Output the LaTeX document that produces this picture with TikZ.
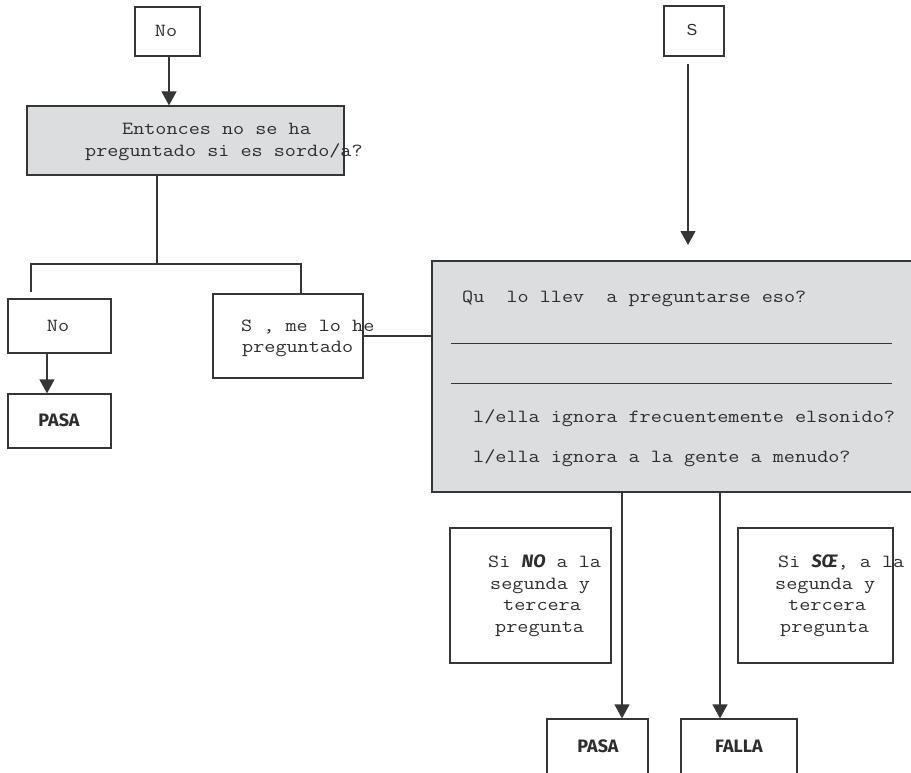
\documentclass[tikz,border=0pt]{standalone}
\usepackage{fontspec}
\newfontfamily\monof{Latin Modern Mono}[FakeStretch=1.165]
\newfontfamily\humf{Fira Sans}
\newfontfamily\helvf{Liberation Sans}
\usetikzlibrary{arrows.meta,fit}
\definecolor{linec}{HTML}{363636}
\definecolor{txtc}{HTML}{2E2E2E}
\definecolor{panel}{HTML}{DCDDDF}
\tikzset{
  box/.style={draw=linec, line width=1.2pt, rectangle, inner sep=0pt},
  graybox/.style={box, fill=panel},
  mono/.style={font=\monof\fontsize{18.5}{22}\selectfont, text=txtc, inner sep=0pt, anchor=base west},
  verdict/.style={font=\humf\bfseries\fontsize{18}{20}\selectfont, text=txtc, inner sep=0pt, anchor=base},
  conn/.style={draw=linec, line width=1.2pt},
  arr/.style={conn, -{Triangle[width=15pt,length=14pt]}},
  rule/.style={draw=linec, line width=1pt}
}
\begin{document}
\begin{tikzpicture}[x=1pt,y=-1pt]
\useasboundingbox (0,0) rectangle (911,773);

% boxes
\node[box, fit={(135,7) (200,56)}] (no1) {};
\node[graybox, fit={(27,106) (344,175)}] (q1) {};
\node[box, fit={(8,299) (111,353)}] (no2) {};
\node[box, fit={(8,394) (111,448)}] (pasa1) {};
\node[box, fit={(213,294) (363,378)}] (si) {};
\node[box, fit={(664,6) (724,56)}] (sbox) {};
\node[graybox, fit={(432,261) (940,492)}] (big) {};
\node[box, fit={(450,528) (611,663)}] (sino) {};
\node[box, fit={(738,528) (893,663)}] (sisi) {};
\node[box, fit={(547,719) (648,800)}] (pasa2) {};
\node[box, fit={(681,719) (797,800)}] (falla) {};

% texts
\node[mono, anchor=base] (tno1) at (166,37) {No};
\node[mono] (tq1a) at (122,135) {Entonces no se ha};
\node[mono] (tq1b) at (85,157) {preguntado si es sordo/a?};
\node[mono, anchor=base] (tno2) at (58,331) {No};
\node[verdict] (tpasa1) at (59,426) {PASA};
\node[mono] (tsia) at (241,331) {S , me lo he};
\node[mono] (tsib) at (242,352) {preguntado};
\node[font=\helvf\fontsize{16}{18}\selectfont, text=txtc, inner sep=0pt, anchor=base] (ts) at (692,36) {S};
\node[mono] (tbig1) at (462,302) {Qu~~lo llev~~a preguntarse eso?};
\node[mono] (tbig2) at (473,422) {l/ella ignora frecuentemente elsonido?};
\node[mono] (tbig3) at (473,462) {l/ella ignora a la gente a menudo?};
\node[mono] (tn1) at (488,567) {Si {\humf\bfseries\itshape\fontsize{18}{22}\selectfont NO} a la};
\node[mono] (tn2) at (490,589) {segunda y};
\node[mono] (tn3) at (503,610) {tercera};
\node[mono] (tn4) at (495,632) {pregunta};
\node[mono] (ty1) at (778,567) {Si {\humf\bfseries\itshape\fontsize{18}{22}\selectfont SŒ}, a la};
\node[mono] (ty2) at (775,589) {segunda y};
\node[mono] (ty3) at (788,610) {tercera};
\node[mono] (ty4) at (780,632) {pregunta};
\node[verdict] (tpasa2) at (598,752) {PASA};
\node[verdict] (tfalla) at (739,752) {FALLA};

% answer lines
\coordinate (l1a) at (451,343); \coordinate (l1b) at (892,343);
\coordinate (l2a) at (451,383); \coordinate (l2b) at (892,383);
\draw[rule] (l1a) -- (l1b);
\draw[rule] (l2a) -- (l2b);

% connectors
\draw[arr] ([xshift=1.5pt]no1.south) -- ([xshift=1.5pt]no1.south |- q1.north);
\coordinate (split) at (157,264);
\coordinate (jl) at (31,264);
\coordinate (jlend) at (31,292);
\coordinate (jr) at (301,264);
\draw[conn] (q1.south -| split) -- (split);
\draw[conn] (jlend) -- (jl) -- (jr) -- (jr |- si.north);
\draw[arr] ([xshift=-12.5pt]no2.south) -- ([xshift=-12.5pt]pasa1.north);
\draw[conn] (si.east) -- (si.east -| big.west);
\coordinate (sstart) at (688,64);
\coordinate (send) at (688,245);
\draw[arr] (sstart) -- (send);
\coordinate (b1) at (622,492);
\coordinate (b2) at (720,492);
\draw[arr] (b1) -- (b1 |- pasa2.north);
\draw[arr] (b2) -- (b2 |- falla.north);
\end{tikzpicture}
\end{document}
